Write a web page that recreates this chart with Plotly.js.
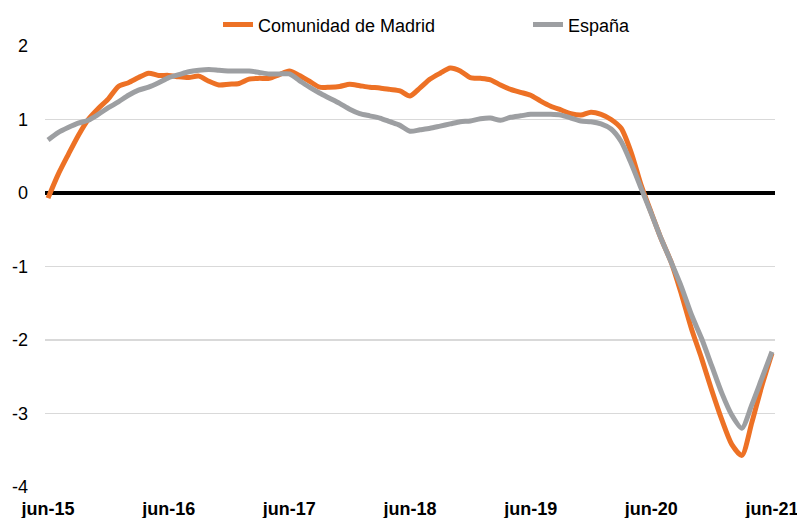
<!DOCTYPE html>
<html>
<head>
<meta charset="utf-8">
<script src="https://cdn.plot.ly/plotly-3.0.1.min.js"></script>
<style>html,body{margin:0;padding:0;background:#fff;}#chart{width:797px;height:518px;}</style>
</head>
<body>
<div id="chart"></div>
<script>
// Months from jun-15 (index 0) to jun-21 (index 72)
const monthIndex = Array.from({length: 73}, (_, i) => i);
const tickPositions = [0, 12, 24, 36, 48, 60, 72];
const tickLabels = ["jun-15", "jun-16", "jun-17", "jun-18", "jun-19", "jun-20", "jun-21"];
const yTickValues = [-4, -3, -2, -1, 0, 1, 2];
const yTickLabels = ["-4", "-3", "-2", "-1", "0", "1", "2"];

const madrid = [
  -0.07, 0.25, 0.52, 0.78, 1.00, 1.15, 1.28, 1.45, 1.50, 1.57, 1.63, 1.60,
  1.60, 1.58, 1.57, 1.59, 1.52, 1.47, 1.48, 1.49, 1.55, 1.56, 1.56, 1.61,
  1.66, 1.60, 1.52, 1.44, 1.44, 1.45, 1.48, 1.46, 1.44, 1.43, 1.41, 1.39,
  1.32, 1.43, 1.55, 1.63, 1.70, 1.66, 1.57, 1.56, 1.54, 1.47, 1.41, 1.37,
  1.33, 1.25, 1.18, 1.13, 1.08, 1.06, 1.10, 1.07, 1.00, 0.88, 0.55, 0.10,
  -0.27, -0.63, -0.95, -1.38, -1.85, -2.25, -2.68, -3.08, -3.42, -3.57, -3.12, -2.62,
  -2.18
];
const espana = [
  0.72, 0.82, 0.89, 0.95, 0.99, 1.07, 1.16, 1.24, 1.33, 1.40, 1.44, 1.50,
  1.57, 1.61, 1.65, 1.67, 1.68, 1.67, 1.66, 1.66, 1.66, 1.64, 1.62, 1.62,
  1.62, 1.53, 1.44, 1.36, 1.29, 1.22, 1.14, 1.08, 1.05, 1.02, 0.97, 0.92,
  0.84, 0.86, 0.88, 0.91, 0.94, 0.97, 0.98, 1.01, 1.02, 0.99, 1.03, 1.05,
  1.07, 1.07, 1.07, 1.06, 1.02, 0.98, 0.97, 0.94, 0.87, 0.70, 0.40, 0.06,
  -0.28, -0.63, -0.95, -1.28, -1.66, -1.98, -2.35, -2.72, -3.02, -3.20, -2.88, -2.52,
  -2.16
];

const traces = [
  {x: monthIndex, y: madrid, name: "Comunidad de Madrid", type: "scatter", mode: "lines",
   line: {color: "#ED7125", width: 5, shape: "spline", smoothing: 0.7}},
  {x: monthIndex, y: espana, name: "España", type: "scatter", mode: "lines",
   line: {color: "#9D9FA2", width: 5, shape: "spline", smoothing: 0.7}}
];

const layout = {
  width: 797, height: 518,
  margin: {l: 45, r: 22, t: 46, b: 31, autoexpand: false},
  paper_bgcolor: "#fff", plot_bgcolor: "#fff",
  font: {family: "Liberation Sans, Arial, sans-serif", size: 18, color: "#000"},
  showlegend: true,
  legend: {orientation: "h", x: 0.237, xanchor: "left", y: 1.048, yanchor: "middle",
           font: {size: 18}, entrywidth: 265, entrywidthmode: "pixels",
           bgcolor: "rgba(0,0,0,0)"},
  xaxis: {range: [-0.3, 72.3], tickmode: "array", tickvals: tickPositions, ticktext: tickLabels,
          showgrid: false, zeroline: false, showline: false, ticks: "",
          tickfont: {size: 18, family: "Liberation Sans, Arial, sans-serif", weight: "bold"},
          ticklabelstandoff: 9, ticklabeloverflow: "allow", automargin: false},
  yaxis: {range: [-4, 2], tickmode: "array", tickvals: yTickValues, ticktext: yTickLabels,
          showgrid: true, gridcolor: "#d9d9d9", gridwidth: 1.5, zeroline: true,
          zerolinecolor: "#000", zerolinewidth: 3.5, showline: false, ticks: "",
          tickfont: {size: 18}, ticklabelstandoff: 16, automargin: false}
};

Plotly.newPlot("chart", traces, layout, {displayModeBar: false, staticPlot: true});
</script>
</body>
</html>
